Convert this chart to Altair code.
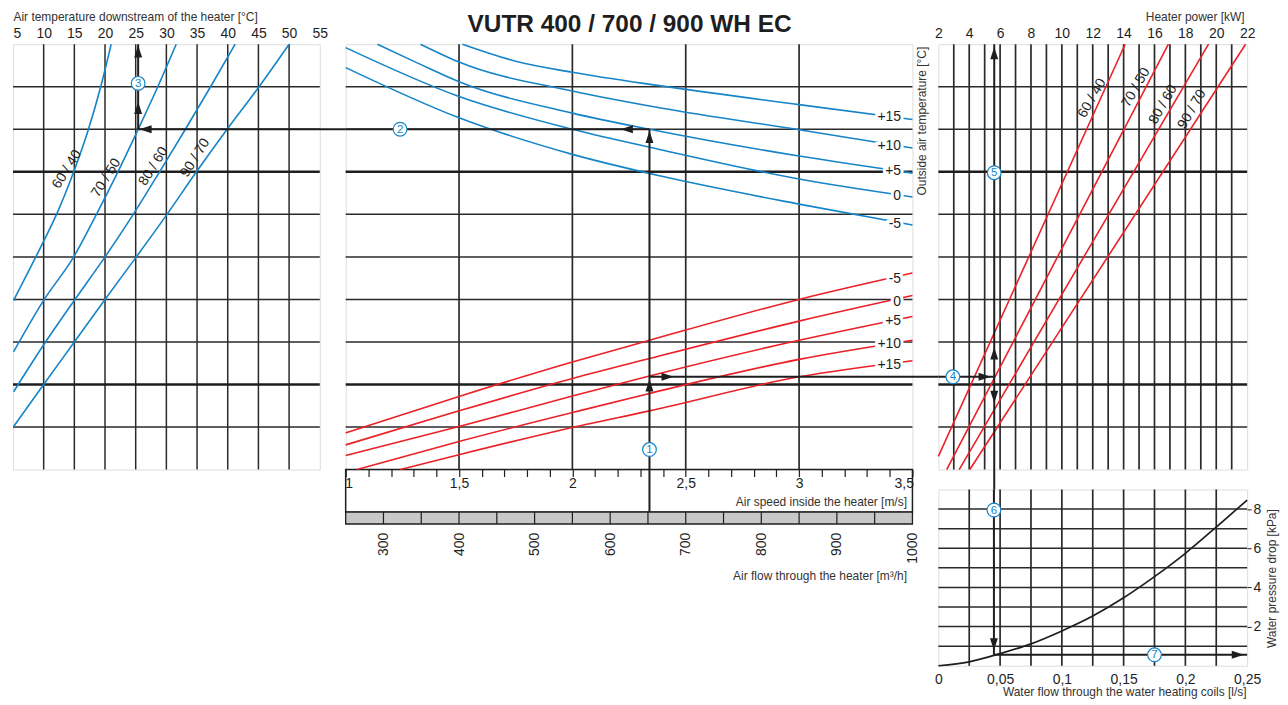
import altair as alt
import pandas as pd

FONT = "Liberation Sans"
BLUE = "#1584c8"
RED = "#ec2027"
INK = "#1e1e1e"
GRID = "#2a2a2a"
BAR_GREY = "#c8c8c8"
OMIT = "omit"

# ---------------- ticks / grid values ----------------
LEFT_TICKS = [5, 10, 15, 20, 25, 30, 35, 40, 45, 50, 55]
LEFT_VGRID = [10, 15, 20, 25, 30, 35, 40, 45, 50]
ROWS_THIN = [1, 3, 4, 5, 6, 8, 9]
ROWS_THICK = [2, 7]
SPEED_TICKS = [1.0, 1.1, 1.2, 1.3, 1.4, 1.5, 1.6, 1.7, 1.8, 1.9, 2.0, 2.1, 2.2,
               2.3, 2.4, 2.5, 2.6, 2.7, 2.8, 2.9, 3.0, 3.1, 3.2, 3.3, 3.4, 3.5]
SPEED_VGRID = [1.5, 2.0, 2.5, 3.0]
FLOW_TICKS = [300, 400, 500, 600, 700, 800, 900, 1000]
FLOW_DIVS = [300, 350, 400, 450, 500, 550, 600, 650, 700, 750, 800, 850, 900, 950]
FLOW_RANGE = [250, 1000]
POWER_TICKS = [2, 4, 6, 8, 10, 12, 14, 16, 18, 20, 22]
POWER_VGRID = [3, 4, 5, 6, 7, 8, 9, 10, 11, 12, 13, 14, 15, 16, 17, 18, 19, 20, 21]
WF_TICKS = [0, 0.05, 0.1, 0.15, 0.2, 0.25]
WF_VGRID = [0.025, 0.05, 0.075, 0.1, 0.125, 0.15, 0.175, 0.2, 0.225]
DP_TICKS = [2, 4, 6, 8]
DP_HGRID = [1, 2, 3, 4, 5, 6, 7, 8]

LEFT_DOM = [5, 55]
ROW_DOM = [0, 10]
SPEED_DOM = [1, 3.5]
FLOW_DOM = [250, 1000]
POWER_DOM = [2, 22]
WF_DOM = [0, 0.25]
DP_DOM = [0, 9]

# ---------------- curves ----------------
WATER_LABELS = ["60 / 40", "70 / 50", "80 / 60", "90 / 70"]

# left: air temperature downstream [°C] against chart rows
L6040_T = [5.1, 10.1, 12.1, 14.9, 17.3, 19.3, 21.0]
L6040_R = [3.98, 5.4, 6.0, 7.0, 8.0, 9.0, 10.0]
L7050_T = [5.1, 10.1, 14.9, 18.6, 22.1, 25.4, 28.6, 31.6]
L7050_R = [2.77, 4.0, 5.0, 6.0, 7.0, 8.0, 9.0, 10.0]
L8060_T = [5.1, 10.3, 15.1, 20.0, 24.6, 28.9, 33.1, 37.2, 41.2]
L8060_R = [1.83, 3.0, 4.0, 5.0, 6.0, 7.0, 8.0, 9.0, 10.0]
L9070_T = [5.1, 10.0, 15.0, 20.0, 25.1, 30.1, 34.9, 39.9, 45.1, 50.0]
L9070_R = [1.01, 2.0, 3.0, 4.0, 5.0, 6.0, 7.0, 8.0, 9.0, 10.0]
LEFT_LABEL_T = [13.8, 20.2, 27.9, 34.7]
LEFT_LABEL_R = [7.06, 6.86, 7.13, 7.33]

# centre, blue (upper family), outside air temperature
OUT_LABELS = ["+15", "+10", "+5", "0", "-5"]
B15_V = [1.515, 1.75, 2.0, 2.39, 3.0, 3.5]
B15_R = [10.0, 9.6, 9.34, 9.02, 8.58, 8.23]
B10_V = [1.33, 1.5, 2.0, 2.39, 3.0, 3.5]
B10_R = [10.0, 9.58, 8.9, 8.5, 7.99, 7.56]
B5_V = [1.14, 1.32, 1.5, 2.0, 2.34, 3.0, 3.5]
B5_R = [10.0, 9.55, 9.12, 8.38, 8.0, 7.37, 6.97]
B0_V = [1.0, 1.5, 2.0, 2.39, 3.0, 3.5]
B0_R = [9.92, 8.77, 8.0, 7.52, 6.83, 6.41]
BM5_V = [1.0, 1.5, 2.0, 2.39, 3.0, 3.5]
BM5_R = [9.45, 8.27, 7.41, 6.9, 6.24, 5.75]
BLUE_LABEL_V = [3.45, 3.45, 3.45, 3.45, 3.45]
BLUE_LABEL_R = [8.28, 7.6, 7.02, 6.43, 5.78]

# centre, red (lower family)
RED_LABELS = ["-5", "0", "+5", "+10", "+15"]
RM5_V = [1.0, 1.5, 2.0, 2.34, 3.0, 3.5]
RM5_R = [0.86, 1.72, 2.53, 3.04, 4.0, 4.62]
R0_V = [1.0, 1.5, 2.0, 2.34, 3.0, 3.5]
R0_R = [0.58, 1.38, 2.14, 2.61, 3.49, 4.09]
R5_V = [1.0, 1.5, 2.0, 2.34, 3.0, 3.5]
R5_R = [0.33, 1.01, 1.73, 2.2, 3.04, 3.6]
R10_V = [1.05, 1.5, 2.0, 2.34, 3.0, 3.5]
R10_R = [0.0, 0.66, 1.34, 1.79, 2.59, 3.04]
R15_V = [1.24, 1.5, 2.0, 2.34, 3.0, 3.5]
R15_R = [0.0, 0.35, 0.99, 1.38, 2.18, 2.56]
RED_LABEL_V = [3.45, 3.45, 3.45, 3.45, 3.45]
RED_LABEL_R = [4.48, 3.94, 3.49, 2.96, 2.46]

# right top: heater power [kW]
P6040_KW = [2.0, 14.1]
P6040_R = [0.31, 10.0]
P7050_KW = [2.54, 16.9]
P7050_R = [0.0, 10.0]
P8060_KW = [3.35, 19.5]
P8060_R = [0.0, 10.0]
P9070_KW = [4.04, 21.9]
P9070_R = [0.0, 10.0]
POWER_LABEL_KW = [11.96, 14.8, 16.56, 18.43]
POWER_LABEL_R = [8.73, 8.98, 8.58, 8.47]

# right bottom: water pressure drop
WF = [0, 0.025, 0.05, 0.075, 0.1, 0.125, 0.15, 0.175, 0.2, 0.225, 0.25]
DP = [0, 0.2, 0.62, 1.12, 1.78, 2.54, 3.47, 4.55, 5.74, 7.08, 8.46]

# worked example (black arrows)
EX_SPEED = 2.34      # 650 m3/h
EX_ROW_BLUE = 8.0
EX_TEMP = 25.4
EX_ROW_RED = 2.18
EX_KW = 5.62
EX_WF = 0.045
EX_DP = 0.56

# decoration extents (chart units)
STRIP_ROWS = [0.0, -1.0, -1.28]
LEFT_GAP_END = 59.3
CENTER_GAP_END = 3.62
RIGHT_GAP_END = -0.48

HEAD_PATHS = {
    "up": "M0,-1L0.65,1L-0.65,1Z",
    "down": "M0,1L0.65,-1L-0.65,-1Z",
    "left": "M-1,0L1,-0.65L1,0.65Z",
    "right": "M1,0L-1,-0.65L-1,0.65Z",
}


# ---------------- helpers ----------------
def _enc(cls, field, dom, axis):
    kw = dict(scale=alt.Scale(domain=dom, nice=False, zero=False))
    if not (isinstance(axis, str) and axis == OMIT):
        kw["axis"] = axis
    return cls(field + ":Q", **kw)


class Panel:
    def __init__(self, xd, yd, yaxis_none):
        self.xd, self.yd, self.ynone = xd, yd, yaxis_none

    def x(self, axis=OMIT):
        return _enc(alt.X, "x", self.xd, axis)

    def y(self, axis=OMIT):
        if self.ynone and isinstance(axis, str):
            return _enc(alt.Y, "y", self.yd, None)
        return _enc(alt.Y, "y", self.yd, axis)


def vgrid(p, vals, width=1.5, color=GRID, axis=OMIT):
    return alt.Chart(pd.DataFrame({"x": vals})).mark_rule(
        color=color, strokeWidth=width).encode(x=p.x(axis))


def hgrid(p, vals, width=1.5, color=GRID, axis=OMIT):
    return alt.Chart(pd.DataFrame({"y": vals})).mark_rule(
        color=color, strokeWidth=width).encode(y=p.y(axis))


def curves(p, series, color, interp="monotone", width=1.6):
    rows = []
    for name, xs, ys in series:
        for i, (a, b) in enumerate(zip(xs, ys)):
            rows.append({"s": name, "x": a, "y": b, "o": i})
    return alt.Chart(pd.DataFrame(rows)).mark_line(
        color=color, strokeWidth=width, interpolate=interp
    ).encode(x=p.x(), y=p.y(), detail="s:N", order="o:Q")


def texts(p, xs, ys, labels, **kw):
    df = pd.DataFrame({"x": xs, "y": ys, "t": labels})
    return alt.Chart(df).mark_text(**kw).encode(x=p.x(), y=p.y(), text="t:N")


def halo_texts(p, xs, ys, labels):
    base = dict(fontSize=14, font=FONT, align="right", baseline="middle")
    return [
        texts(p, xs, ys, labels, color="white", stroke="white", strokeWidth=6, **base),
        texts(p, xs, ys, labels, color=INK, **base),
    ]


def segs(p, x1, y1, x2, y2, width=2.0):
    df = pd.DataFrame({"x": x1, "y": y1, "x2": x2, "y2": y2})
    return alt.Chart(df).mark_rule(color=INK, strokeWidth=width).encode(
        x=p.x(), y=p.y(), x2="x2:Q", y2="y2:Q")


def heads(p, xs, ys, dirs):
    df = pd.DataFrame({"x": xs, "y": ys, "d": dirs})
    return alt.Chart(df).mark_point(filled=True, color=INK, opacity=1, size=150).encode(
        x=p.x(), y=p.y(),
        shape=alt.Shape("d:N", scale=alt.Scale(domain=list(HEAD_PATHS),
                                               range=list(HEAD_PATHS.values())), legend=None))


def badges(p, xs, ys, nums):
    df = pd.DataFrame({"x": xs, "y": ys, "t": nums})
    ring = alt.Chart(df).mark_circle(size=190, fill="white", stroke=BLUE, strokeWidth=1.2,
                                     opacity=1).encode(x=p.x(), y=p.y())
    num = alt.Chart(df).mark_text(color=BLUE, fontSize=11.5, font=FONT, dy=0.5).encode(
        x=p.x(), y=p.y(), text="t:N")
    return [ring, num]


TITLE_STYLE = dict(titleFont=FONT, titleFontSize=12, titleFontWeight="normal", titleColor="#333333")
LABEL_STYLE = dict(labelFont=FONT, labelFontSize=14, labelColor=INK, labelOverlap=False,
                   labelSeparation=0, tickCount=60)

# ---------------- left panel ----------------
PL = Panel(LEFT_DOM, ROW_DOM, True)
left_axis = alt.Axis(
    orient="top", values=LEFT_TICKS, format="d", ticks=False, domain=False, grid=False,
    labelPadding=7, labelBaseline="alphabetic", labelFlush=False,
    labelAlign={"expr": "datum.value == 5 ? 'left' : 'center'"},
    title="Air temperature downstream of the heater [°C]",
    titleX=0, titleY=-24, titleAlign="left", titleBaseline="alphabetic",
    **LABEL_STYLE, **TITLE_STYLE)

left = alt.layer(
    vgrid(PL, LEFT_VGRID, axis=left_axis),
    hgrid(PL, ROWS_THIN),
    hgrid(PL, ROWS_THICK, width=2.4, color=INK),
    curves(PL, [("60/40", L6040_T, L6040_R), ("70/50", L7050_T, L7050_R),
                ("80/60", L8060_T, L8060_R), ("90/70", L9070_T, L9070_R)], BLUE),
    texts(PL, LEFT_LABEL_T, LEFT_LABEL_R, WATER_LABELS,
          angle=302, fontSize=14, font=FONT, color=INK),
    segs(PL, [EX_TEMP, EX_TEMP], [EX_ROW_BLUE, EX_ROW_BLUE], [LEFT_GAP_END, EX_TEMP],
         [EX_ROW_BLUE, 10.0]),
    heads(PL, [26.6, EX_TEMP, EX_TEMP], [EX_ROW_BLUE, 8.5, 9.83], ["left", "up", "up"]),
    *badges(PL, [EX_TEMP], [9.08], ["3"]),
).properties(width=308, height=427)

# ---------------- centre panel ----------------
PS = Panel(SPEED_DOM, ROW_DOM, False)
PF = Panel(FLOW_DOM, ROW_DOM, False)
speed_axis = alt.Axis(
    orient="bottom", values=SPEED_TICKS,
    labelExpr="(round(datum.value*10) % 5 == 0) ? replace(format(datum.value, '.1~f'), '.', ',') : ''",
    ticks=True, tickSize=7, tickColor=INK, tickWidth=1.2, domain=False, grid=False,
    labelPadding=11, labelBaseline="alphabetic", labelFlush=True, labelFlushOffset=1,
    title="Air speed inside the heater [m/s]",
    titleX=563, titleY=36, titleAlign="right", titleBaseline="alphabetic",
    **LABEL_STYLE, **TITLE_STYLE)

flow_axis = alt.Axis(
    orient="bottom", offset=55, values=FLOW_TICKS, format="d", labelAngle=270,
    ticks=False, domain=False, grid=False, labelPadding=8, labelFlush=False,
    title="Air flow through the heater [m³/h]",
    titleX=563, titleY=55, titleAlign="right", titleBaseline="alphabetic",
    **LABEL_STYLE, **TITLE_STYLE)

# the chart heading, carried by the (label-less) row axis of the centre panel
heading_axis = alt.Axis(
    orient="left", labels=False, ticks=False, domain=False, grid=False,
    title="VUTR 400 / 700 / 900 WH EC", titleAngle=0, titleX=284.5, titleY=-13,
    titleAlign="center", titleBaseline="alphabetic", titleFont=FONT, titleFontSize=24.5,
    titleFontWeight="bold", titleColor=INK)

flow_group = alt.layer(
    alt.Chart(pd.DataFrame({"x": [FLOW_RANGE[0]], "x2": [FLOW_RANGE[1]],
                            "y": [STRIP_ROWS[0]], "y2": [STRIP_ROWS[1]]}))
    .mark_rect(fill="white", fillOpacity=0, stroke=INK, strokeWidth=1.5)
    .encode(x=PF.x(flow_axis), x2="x2:Q", y=PF.y(), y2="y2:Q"),
    alt.Chart(pd.DataFrame({"x": [FLOW_RANGE[0]], "x2": [FLOW_RANGE[1]],
                            "y": [STRIP_ROWS[1]], "y2": [STRIP_ROWS[2]]}))
    .mark_rect(fill=BAR_GREY, stroke=INK, strokeWidth=1.3)
    .encode(x=PF.x(), x2="x2:Q", y=PF.y(), y2="y2:Q"),
    alt.Chart(pd.DataFrame({"x": FLOW_DIVS, "y": [STRIP_ROWS[1]] * len(FLOW_DIVS),
                            "y2": [STRIP_ROWS[2]] * len(FLOW_DIVS)}))
    .mark_rule(color=INK, strokeWidth=1.2)
    .encode(x=PF.x(), y=PF.y(), y2="y2:Q"),
)

speed_group = alt.layer(
    vgrid(PS, SPEED_VGRID, width=1.7, axis=speed_axis),
    hgrid(PS, ROWS_THIN, axis=heading_axis),
    hgrid(PS, ROWS_THICK, width=2.4, color=INK),
    curves(PS, [("b15", B15_V, B15_R), ("b10", B10_V, B10_R), ("b5", B5_V, B5_R),
                ("b0", B0_V, B0_R), ("bm5", BM5_V, BM5_R)], BLUE),
    curves(PS, [("rm5", RM5_V, RM5_R), ("r0", R0_V, R0_R), ("r5", R5_V, R5_R),
                ("r10", R10_V, R10_R), ("r15", R15_V, R15_R)], RED),
    *halo_texts(PS, BLUE_LABEL_V, BLUE_LABEL_R, OUT_LABELS),
    *halo_texts(PS, RED_LABEL_V, RED_LABEL_R, RED_LABELS),
    segs(PS, [EX_SPEED, SPEED_DOM[0], EX_SPEED],
         [STRIP_ROWS[1], EX_ROW_BLUE, EX_ROW_RED],
         [EX_SPEED, EX_SPEED, CENTER_GAP_END],
         [EX_ROW_BLUE, EX_ROW_BLUE, EX_ROW_RED]),
    heads(PS, [2.24, EX_SPEED, EX_SPEED, 2.42], [EX_ROW_BLUE, 7.82, 1.98, EX_ROW_RED],
          ["left", "up", "up", "right"]),
    *badges(PS, [EX_SPEED, 1.24], [0.47, EX_ROW_BLUE], ["1", "2"]),
)

center = alt.layer(flow_group, speed_group).resolve_scale(x="independent").properties(
    width=569, height=427)

# ---------------- right top panel ----------------
PR = Panel(POWER_DOM, ROW_DOM, False)
power_axis = alt.Axis(
    orient="top", values=POWER_TICKS, format="d", ticks=False, domain=False, grid=False,
    labelPadding=7, labelBaseline="alphabetic", labelFlush=False,
    title="Heater power [kW]", titleX=307, titleY=-24, titleAlign="right",
    titleBaseline="alphabetic", **LABEL_STYLE, **TITLE_STYLE)

outside_axis = alt.Axis(
    orient="left", labels=False, ticks=False, domain=False, grid=False,
    title="Outside air temperature [°C]", titleX=-13, titleY=2, titleAngle=270,
    titleAlign="right", titleBaseline="alphabetic", **TITLE_STYLE)

right_top = alt.layer(
    vgrid(PR, POWER_VGRID, width=1.7, axis=power_axis),
    hgrid(PR, ROWS_THIN, axis=outside_axis),
    hgrid(PR, ROWS_THICK, width=2.4, color=INK),
    curves(PR, [("60/40", P6040_KW, P6040_R), ("70/50", P7050_KW, P7050_R),
                ("80/60", P8060_KW, P8060_R), ("90/70", P9070_KW, P9070_R)],
           RED, interp="linear"),
    texts(PR, POWER_LABEL_KW, POWER_LABEL_R, WATER_LABELS,
          angle=300, fontSize=14, font=FONT, color=INK),
    segs(PR, [POWER_DOM[0], EX_KW], [EX_ROW_RED, RIGHT_GAP_END], [EX_KW, EX_KW],
         [EX_ROW_RED, 10.0]),
    heads(PR, [EX_KW, EX_KW, EX_KW, 5.0], [9.79, 2.73, 1.71, EX_ROW_RED],
          ["up", "up", "down", "right"]),
    *badges(PR, [2.94, EX_KW], [EX_ROW_RED, 6.98], ["4", "5"]),
).properties(width=310, height=427)

# ---------------- right bottom panel ----------------
PW = Panel(WF_DOM, DP_DOM, False)
wf_axis = alt.Axis(
    orient="bottom", values=WF_TICKS,
    labelExpr="replace(format(datum.value, '~g'), '.', ',')",
    ticks=False, domain=False, grid=False, labelPadding=18, labelBaseline="alphabetic",
    labelFlush=False,
    title="Water flow through the water heating coils [l/s]",
    titleX=309, titleY=30, titleAlign="right", titleBaseline="alphabetic",
    **LABEL_STYLE, **TITLE_STYLE)

dp_axis = alt.Axis(
    orient="right", values=DP_TICKS, format="d", ticks=True, tickSize=4, tickColor=INK,
    domain=False, grid=False, labelPadding=2, labelFlush=False,
    title="Water pressure drop [kPa]", titleAngle=270, titleX=28, titleY=89,
    titleAlign="center", titleBaseline="alphabetic", **LABEL_STYLE, **TITLE_STYLE)

right_bottom = alt.layer(
    vgrid(PW, WF_VGRID, width=1.7, axis=wf_axis),
    hgrid(PW, DP_HGRID, axis=dp_axis),
    curves(PW, [("dp", WF, DP)], INK, width=1.7),
    segs(PW, [EX_WF, EX_WF], [DP_DOM[1], EX_DP], [EX_WF, WF_DOM[1]], [EX_DP, EX_DP]),
    heads(PW, [EX_WF, 0.2425], [1.1, EX_DP], ["down", "right"]),
    *badges(PW, [EX_WF, 0.175], [7.95, EX_DP], ["6", "7"]),
).properties(width=310, height=177)


def blank(w, h):
    return alt.Chart(pd.DataFrame({"x": []})).mark_point().encode(
        x=alt.X("x:Q", axis=None)).properties(
        width=w, height=h, view=alt.ViewBackground(stroke="transparent"))


chart = alt.concat(
    left, center, right_top, blank(308, 177), blank(569, 177), right_bottom,
    columns=3, spacing={"row": 20, "column": 26}, bounds="flush",
).configure_view(stroke=INK, strokeWidth=2).configure_axis(
    labelOverlap=False, labelSeparation=0
).configure(font=FONT).properties(
    padding={"left": 1, "top": 0, "right": 2, "bottom": 2})

chart.save("out.html", embed_options={"renderer": "svg", "actions": False})
